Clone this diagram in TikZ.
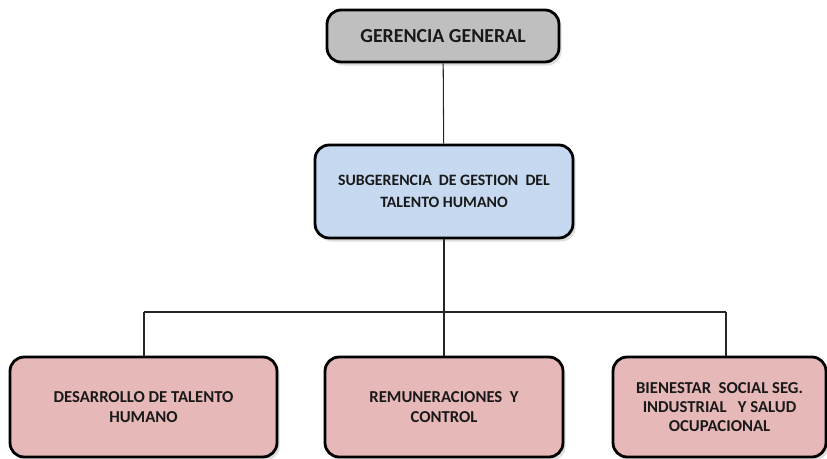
\documentclass[tikz,border=0pt]{standalone}
\usepackage{fontspec}
\setmainfont{Carlito}
\usetikzlibrary{shadows}

\begin{document}
\begin{tikzpicture}[x=0.02cm, y=-0.02cm,
        caja/.style={draw=black, line width=1.6pt, rounded corners=8pt, align=center,
            font=\bfseries, text=black!90, inner sep=2pt,
            drop shadow={opacity=0.25, shadow xshift=1.5pt, shadow yshift=-2pt}},
        gris/.style={caja, fill=black!25},
        azul/.style={caja, fill={rgb,255:red,198;green,217;blue,240}},
        rosa/.style={caja, fill={rgb,255:red,230;green,185;blue,184}},
        linea/.style={draw=black!85, line width=0.6pt}]
        \useasboundingbox (0,0) rectangle (827,459);

        \node[gris, minimum width=4.64cm, minimum height=1.04cm, font=\bfseries\fontsize{11.3}{13}\selectfont] (gg) at (443,36) {GERENCIA GENERAL};
        \node[azul, minimum width=5.16cm, minimum height=1.86cm, font=\bfseries\fontsize{9}{12.5}\selectfont] (sub) at (444,191.5) {SUBGERENCIA\ \ DE GESTION\ \ DEL\\TALENTO HUMANO};
        \node[rosa, minimum width=5.34cm, minimum height=2cm, font=\bfseries\fontsize{9.5}{11.3}\selectfont] (des) at (143.5,407) {DESARROLLO DE TALENTO\\HUMANO};
        \node[rosa, minimum width=4.76cm, minimum height=2cm, font=\bfseries\fontsize{9.5}{11.3}\selectfont] (rem) at (444,407) {REMUNERACIONES\ \ Y\\CONTROL};
        \node[rosa, minimum width=4.26cm, minimum height=2cm, font=\bfseries\fontsize{9.5}{11}\selectfont] (bie) at (719.5,407) {BIENESTAR\ \ SOCIAL SEG.\\INDUSTRIAL\ \ \ Y SALUD\\OCUPACIONAL};

        % conectores
        \coordinate (j1) at (144,312);
        \coordinate (j2) at (444,312);
        \coordinate (j3) at (726,312);
        \draw[linea] (gg) -- (sub);
        \draw[linea] (sub) -- (j2);
        \draw[linea] (j1) -- (j3);
        \draw[linea] (j1) -- (j1 |- des.north);
        \draw[linea] (j2) -- (j2 |- rem.north);
        \draw[linea] (j3) -- (j3 |- bie.north);
\end{tikzpicture}
\end{document}
